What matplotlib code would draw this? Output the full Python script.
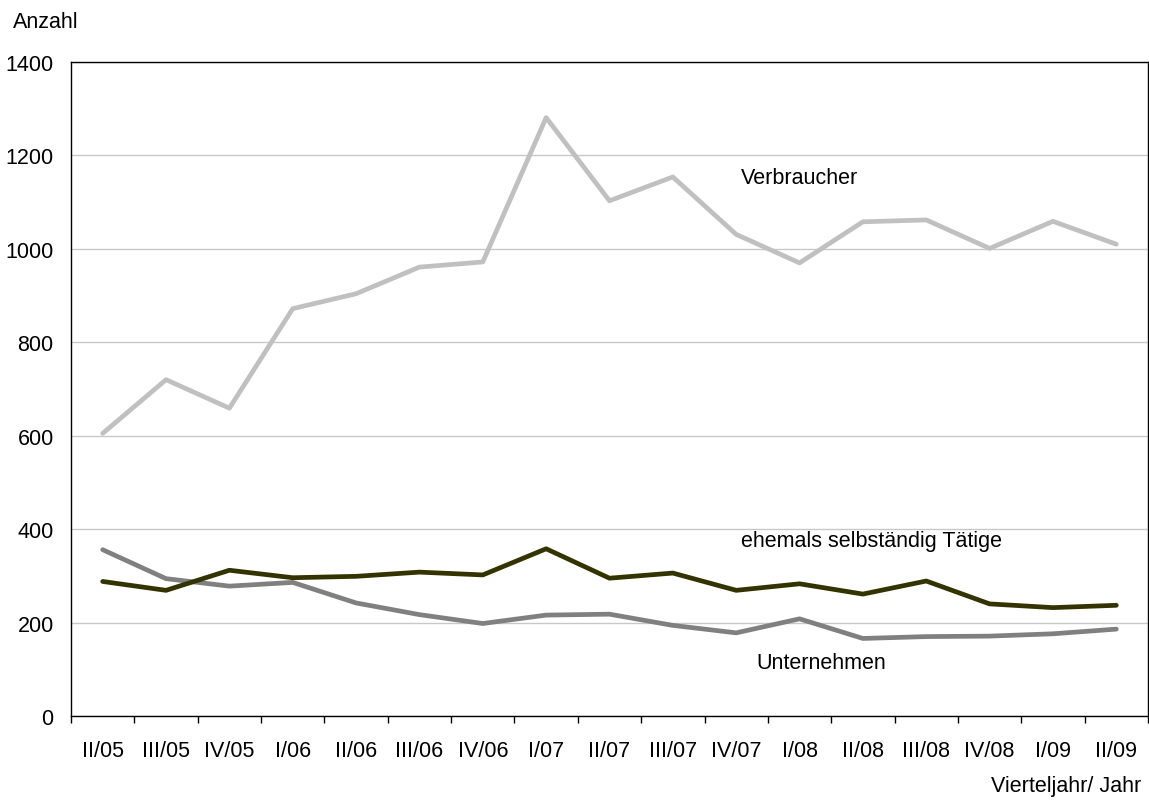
import matplotlib.pyplot as plt
from matplotlib.ticker import FixedLocator

plt.rcParams['font.family'] = ['Liberation Sans', 'DejaVu Sans']

quarters = ['II/05', 'III/05', 'IV/05', 'I/06', 'II/06', 'III/06', 'IV/06', 'I/07', 'II/07',
            'III/07', 'IV/07', 'I/08', 'II/08', 'III/08', 'IV/08', 'I/09', 'II/09']
verbraucher = [605, 720, 659, 872, 904, 961, 972, 1281, 1103, 1154, 1031, 970, 1058, 1062, 1001, 1059, 1010]
ehemals = [288, 269, 312, 296, 299, 308, 302, 358, 295, 306, 269, 283, 261, 289, 240, 232, 237]
unternehmen = [356, 294, 278, 286, 242, 217, 198, 216, 218, 194, 178, 208, 166, 170, 171, 176, 186]

fs = 15.5
fig = plt.figure(figsize=(11.49, 8.03), dpi=100)
ax = fig.add_axes([0.0618, 0.1071, 0.9373, 0.8144])

x = range(len(quarters))
style = dict(lw=3.4, solid_capstyle='round', solid_joinstyle='round')
ax.plot(x, verbraucher, color='#C0C0C0', **style)
ax.plot(x, unternehmen, color='#808080', **style)
ax.plot(x, ehemals, color='#333300', **style)

ax.set_xlim(-0.5, len(quarters) - 0.5)
ax.set_ylim(0, 1400)
ax.set_yticks(range(0, 1401, 200))
ax.yaxis.grid(True, color='#C8C8C8', lw=1)
ax.set_axisbelow(True)
ax.tick_params(axis='y', length=0, pad=12.5, labelsize=fs)

ax.set_xticks(list(x))
ax.set_xticklabels(quarters)
ax.xaxis.set_minor_locator(FixedLocator([i - 0.5 for i in range(len(quarters) + 1)]))
ax.tick_params(axis='x', which='major', length=0, pad=17, labelsize=fs)
ax.tick_params(axis='x', which='minor', length=5, width=1, direction='out', color='black')

for s in ax.spines.values():
    s.set_color('black')
    s.set_linewidth(1)

ax.text(10.08, 1153, 'Verbraucher', fontsize=fs, va='center', ha='left')
ax.text(10.08, 376, 'ehemals selbständig Tätige', fontsize=fs, va='center', ha='left')
ax.text(10.32, 115, 'Unternehmen', fontsize=fs, va='center', ha='left')

fig.text(13 / 1149, 1 - 22 / 803, 'Anzahl', fontsize=fs, va='center', ha='left')
fig.text(1141 / 1149, 1 - 787 / 803, 'Vierteljahr/ Jahr', fontsize=fs, va='center', ha='right')

fig.savefig('out.png', dpi=100)
